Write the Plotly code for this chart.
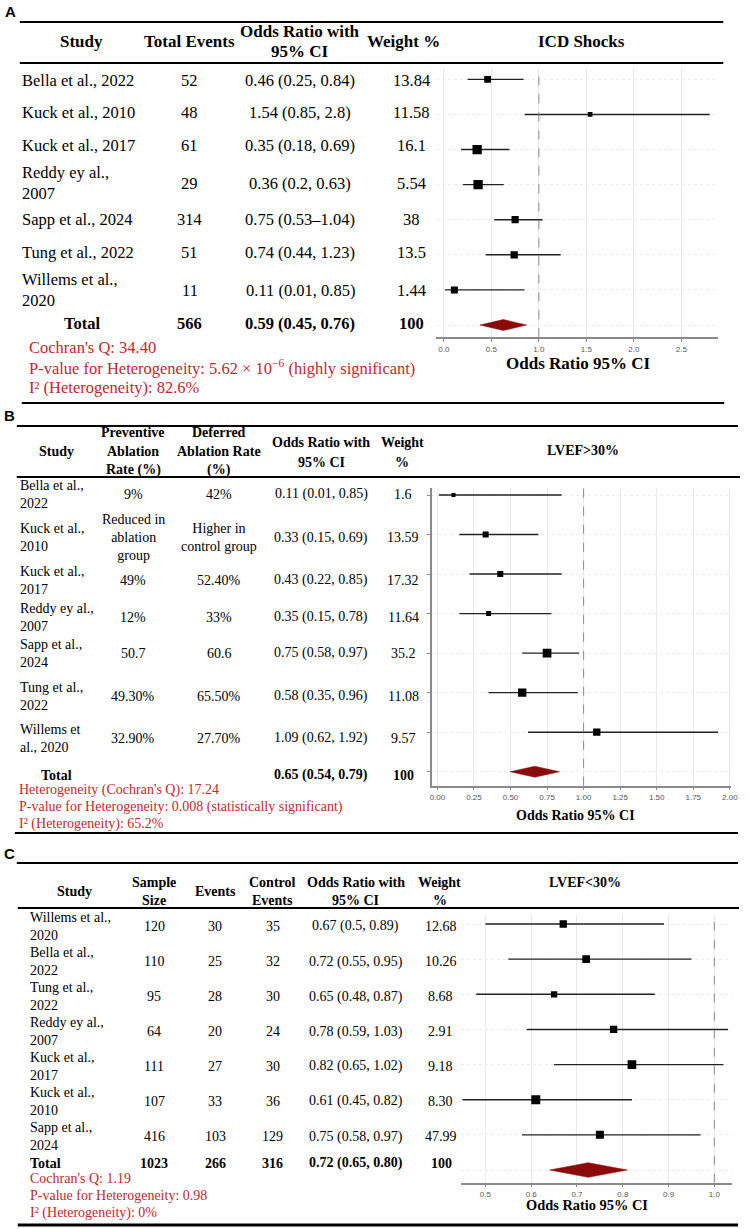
import plotly.graph_objects as go

W, H = 750, 1229
SERIF = "Liberation Serif, Times New Roman, serif"
SANS = "Liberation Sans, Arial, sans-serif"
RED = "#C4262E"
MAROON = "#8B0A0A"

# ---------------- Panel A : ICD Shocks ----------------
studies_a = ["Bella et al., 2022", "Kuck et al., 2010", "Kuck et al., 2017", "Reddy ey al.,<br>2007",
             "Sapp et al., 2024", "Tung et al., 2022", "Willems et al.,<br>2020"]
events_a = ["52", "48", "61", "29", "314", "51", "11"]
or_a = [0.46, 1.54, 0.35, 0.36, 0.75, 0.74, 0.11]
lo_a = [0.25, 0.85, 0.18, 0.20, 0.53, 0.44, 0.01]
hi_a = [0.84, 2.80, 0.69, 0.63, 1.04, 1.23, 0.85]
or_text_a = ["0.46 (0.25, 0.84)", "1.54 (0.85, 2.8)", "0.35 (0.18, 0.69)", "0.36 (0.2, 0.63)",
             "0.75 (0.53–1.04)", "0.74 (0.44, 1.23)", "0.11 (0.01, 0.85)"]
weight_a = ["13.84", "11.58", "16.1", "5.54", "38", "13.5", "1.44"]
total_a = ["Total", "566", "0.59 (0.45, 0.76)", "100"]
pooled_a = [0.38, 0.625, 0.87]  # diamond as drawn (low, centre, high)
het_a = ["Cochran's Q: 34.40",
         "P-value for Heterogeneity: 5.62 × 10<sup>−6</sup> (highly significant)",
         "I² (Heterogeneity): 82.6%"]
ticks_a = [0.0, 0.5, 1.0, 1.5, 2.0, 2.5]

# ---------------- Panel B : LVEF>30% ----------------
studies_b = ["Bella et al.,<br>2022", "Kuck et al.,<br>2010", "Kuck et al.,<br>2017", "Reddy ey al.,<br>2007",
             "Sapp et al.,<br>2024", "Tung et al.,<br>2022", "Willems et<br>al., 2020"]
prev_b = ["9%", "Reduced in<br>ablation<br>group", "49%", "12%", "50.7", "49.30%", "32.90%"]
def_b = ["42%", "Higher in<br>control group", "52.40%", "33%", "60.6", "65.50%", "27.70%"]
or_b = [0.11, 0.33, 0.43, 0.35, 0.75, 0.58, 1.09]
lo_b = [0.01, 0.15, 0.22, 0.15, 0.58, 0.35, 0.62]
hi_b = [0.85, 0.69, 0.85, 0.78, 0.97, 0.96, 1.92]
or_text_b = ["0.11 (0.01, 0.85)", "0.33 (0.15, 0.69)", "0.43 (0.22, 0.85)", "0.35 (0.15, 0.78)",
             "0.75 (0.58, 0.97)", "0.58 (0.35, 0.96)", "1.09 (0.62, 1.92)"]
weight_b = ["1.6", "13.59", "17.32", "11.64", "35.2", "11.08", "9.57"]
total_b = ["Total", "", "", "0.65 (0.54, 0.79)", "100"]
pooled_b = [0.497, 0.666, 0.835]
het_b = ["Heterogeneity (Cochran's Q): 17.24",
         "P-value for Heterogeneity: 0.008 (statistically significant)",
         "I² (Heterogeneity): 65.2%"]
ticks_b = [0.0, 0.25, 0.5, 0.75, 1.0, 1.25, 1.5, 1.75, 2.0]

# ---------------- Panel C : LVEF<30% ----------------
studies_c = ["Willems et al.,<br>2020", "Bella et al.,<br>2022", "Tung et al.,<br>2022", "Reddy ey al.,<br>2007",
             "Kuck et al.,<br>2017", "Kuck et al.,<br>2010", "Sapp et al.,<br>2024"]
sample_c = ["120", "110", "95", "64", "111", "107", "416"]
events_c = ["30", "25", "28", "20", "27", "33", "103"]
control_c = ["35", "32", "30", "24", "30", "36", "129"]
or_c = [0.67, 0.72, 0.65, 0.78, 0.82, 0.61, 0.75]
lo_c = [0.50, 0.55, 0.48, 0.59, 0.65, 0.45, 0.58]
hi_c = [0.89, 0.95, 0.87, 1.03, 1.02, 0.82, 0.97]
or_text_c = ["0.67 (0.5, 0.89)", "0.72 (0.55, 0.95)", "0.65 (0.48, 0.87)", "0.78 (0.59, 1.03)",
             "0.82 (0.65, 1.02)", "0.61 (0.45, 0.82)", "0.75 (0.58, 0.97)"]
weight_c = ["12.68", "10.26", "8.68", "2.91", "9.18", "8.30", "47.99"]
total_c = ["Total", "1023", "266", "316", "0.72 (0.65, 0.80)", "100"]
pooled_c = [0.64, 0.7245, 0.81]
het_c = ["Cochran's Q: 1.19", "P-value for Heterogeneity: 0.98", "I² (Heterogeneity): 0%"]
ticks_c = [0.5, 0.6, 0.7, 0.8, 0.9, 1.0]

# ---------------- styling (sizes/positions) ----------------
SQ_A = [6.7, 4.7, 9.3, 9.3, 7.2, 7.3, 7.0]
SQ_B = [4.0, 6.0, 6.0, 5.0, 8.7, 8.3, 7.3]
SQ_C = [7.3, 7.7, 6.3, 7.3, 8.7, 9.0, 8.0]


def px(x):
    return x / W


def py(y):
    return 1 - y / H


fig = go.Figure()
annotations = []
shapes = []


def txt(x, y, text, size, color="black", anchor="center", bold=False, family=SERIF):
    if bold:
        text = "<b>" + text + "</b>"
    annotations.append(dict(
        x=px(x), y=py(y), xref="paper", yref="paper", text=text, showarrow=False,
        xanchor=anchor, yanchor="middle", align=anchor if anchor != "center" else "center",
        font=dict(family=family, size=size, color=color), borderpad=0))


def hline(y, x0, x1, width=2.2):
    shapes.append(dict(type="line", xref="paper", yref="paper", x0=px(x0), x1=px(x1),
                       y0=py(y), y1=py(y), line=dict(color="black", width=width)))


panels = [
    dict(ax="", ors=or_a, lo=lo_a, hi=hi_a, sq=SQ_A, pooled=pooled_a, dh=0.157,
         xdom=(439.3, 725.0), ydom=(68.8, 337.3), xr=[-0.083, 2.89], yr=[7.35, -0.30],
         ticks=ticks_a, fmt="{:.1f}", leftline=False, title=(583, 363, 17)),
    dict(ax="2", ors=or_b, lo=lo_b, hi=hi_b, sq=SQ_B, pooled=pooled_b, dh=0.139,
         xdom=(435.0, 738.0), ydom=(488.0, 785.7), xr=[-0.0385, 2.009], yr=[7.354, -0.177],
         ticks=ticks_b, fmt="{:.2f}", leftline=True, title=(580, 815, 14)),
    dict(ax="3", ors=or_c, lo=lo_c, hi=hi_c, sq=SQ_C, pooled=pooled_c, dh=0.209,
         xdom=(465.0, 739.3), ydom=(915.0, 1182.7), xr=[0.4476, 1.0395], yr=[7.361, -0.256],
         ticks=ticks_c, fmt="{:.1f}", leftline=False, title=(592, 1205, 14.4)),
]

layout_axes = {}
for p in panels:
    n = len(p["ors"])
    rows = list(range(n))
    xa, ya = "x" + p["ax"], "y" + p["ax"]
    fig.add_trace(go.Scatter(
        x=p["ors"], y=rows, mode="markers", xaxis=xa, yaxis=ya,
        marker=dict(symbol="square", size=p["sq"], color="#000000", opacity=1, line=dict(width=0)),
        error_x=dict(type="data", symmetric=False,
                     array=[h - o for h, o in zip(p["hi"], p["ors"])],
                     arrayminus=[o - l for o, l in zip(p["ors"], p["lo"])],
                     width=0, thickness=1.4, color="#222222"),
        hoverinfo="skip", showlegend=False))
    lo, mid, hi = p["pooled"]
    r, dh = n, p["dh"]
    fig.add_trace(go.Scatter(
        x=[lo, mid, hi, mid, lo], y=[r, r - dh, r, r + dh, r], mode="lines",
        fill="toself", fillcolor=MAROON, line=dict(color=MAROON, width=0.5),
        xaxis=xa, yaxis=ya, hoverinfo="skip", showlegend=False))
    # reference line at OR = 1
    shapes.append(dict(type="line", xref=xa, yref=ya + " domain", x0=1, x1=1, y0=0, y1=1,
                       line=dict(color="#8a8a8a", width=1, dash="dash")))
    xkey = "xaxis" + p["ax"]
    ykey = "yaxis" + p["ax"]
    layout_axes[xkey] = dict(
        domain=[px(p["xdom"][0]), px(p["xdom"][1])], range=p["xr"], anchor=ya,
        tickvals=p["ticks"], ticktext=[p["fmt"].format(t) for t in p["ticks"]],
        showgrid=True, gridcolor="#e9e9e9", gridwidth=1, zeroline=False,
        showline=True, linecolor="#8a8a8a", linewidth=1.5,
        ticks="outside", ticklen=3, tickcolor="#8a8a8a",
        tickfont=dict(family=SANS, size=8, color="#555555"), fixedrange=True)
    layout_axes[ykey] = dict(
        domain=[py(p["ydom"][1]), py(p["ydom"][0])], range=p["yr"], anchor=xa,
        tickvals=list(range(n + 1)), showticklabels=False,
        showgrid=True, gridcolor="#ececec", gridwidth=1, griddash="dot", zeroline=False,
        showline=p["leftline"], linecolor="#8a8a8a", linewidth=1.5,
        ticks="outside" if p["leftline"] else "", ticklen=3, tickcolor="#8a8a8a", fixedrange=True)
    tx, ty, ts = p["title"]
    txt(tx, ty, "Odds Ratio 95% CI", ts, bold=True)

# ---------------- Panel A table ----------------
txt(8.5, 11, "A", 15, bold=True, family=SANS)
hline(22, 18, 730)
hline(63, 18, 730)
hline(403, 20, 731)
FA = 16.5
txt(80, 42, "Study", 17, bold=True)
txt(190, 42, "Total Events", 17, bold=True)
txt(302, 32, "Odds Ratio with", 17, bold=True)
txt(302, 52, "95% CI", 17, bold=True)
txt(406, 42, "Weight %", 17, bold=True)
txt(587, 42, "ICD Shocks", 17, bold=True)
rows_a = [80, 112, 145, 183, 220, 253, 290]
for i, yy in enumerate(rows_a):
    txt(19, yy, studies_a[i], FA, anchor="left")
    txt(190, yy, events_a[i], FA)
    txt(302, yy, or_text_a[i], FA)
    txt(414, yy, weight_a[i], FA)
for xx, t in zip([81, 190, 302, 414], total_a):
    txt(xx, 323, t, FA, bold=True)
for yy, t in zip([347, 367, 387], het_a):
    txt(26, yy, t, FA, color=RED, anchor="left")

# ---------------- Panel B table ----------------
txt(8, 415.5, "B", 15, bold=True, family=SANS)
hline(426, 15, 745)
hline(477, 15, 747)
hline(833, 13, 745)
FB = 14
txt(55, 451, "Study", FB, bold=True)
txt(133, 432, "Preventive", FB, bold=True)
txt(133, 451, "Ablation", FB, bold=True)
txt(133, 470, "Rate (%)", FB, bold=True)
txt(220, 432, "Deferred", FB, bold=True)
txt(220, 451, "Ablation Rate", FB, bold=True)
txt(220, 470, "(%)", FB, bold=True)
txt(323, 442, "Odds Ratio with", FB, bold=True)
txt(323, 462, "95% CI", FB, bold=True)
txt(405, 442, "Weight", FB, bold=True)
txt(405, 462, "%", FB, bold=True)
txt(588, 450, "LVEF&gt;30%", FB, bold=True)
rows_b = [494, 538, 580, 617, 653, 696, 738]
for i, yy in enumerate(rows_b):
    txt(17, yy, studies_b[i], FB, anchor="left")
    txt(133, yy, prev_b[i], FB)
    txt(220, yy, def_b[i], FB)
    txt(323, yy, or_text_b[i], FB)
    txt(406, yy, weight_b[i], FB)
for xx, t in zip([55, 133, 220, 323, 406], total_b):
    if t:
        txt(xx, 775, t, FB, bold=True)
for yy, t in zip([790, 807, 824], het_b):
    txt(16, yy, t, FB, color=RED, anchor="left")

# ---------------- Panel C table ----------------
txt(8, 853, "C", 15, bold=True, family=SANS)
hline(863, 15, 745)
hline(908, 16, 746)
hline(1225, 16, 745, width=3)
FC = 14
txt(73, 891, "Study", FC, bold=True)
txt(154, 882, "Sample", FC, bold=True)
txt(154, 900, "Size", FC, bold=True)
txt(216, 891, "Events", FC, bold=True)
txt(274, 882, "Control", FC, bold=True)
txt(274, 900, "Events", FC, bold=True)
txt(358, 882, "Odds Ratio with", FC, bold=True)
txt(358, 900, "95% CI", FC, bold=True)
txt(443, 882, "Weight", FC, bold=True)
txt(443, 900, "%", FC, bold=True)
txt(590, 882, "LVEF&lt;30%", FC, bold=True)
rows_c = [926, 961.7, 996.7, 1031.7, 1066, 1101, 1136.7]
for i, yy in enumerate(rows_c):
    txt(27, yy, studies_c[i], FC, anchor="left")
    txt(154, yy, sample_c[i], FC)
    txt(216, yy, events_c[i], FC)
    txt(274, yy, control_c[i], FC)
    txt(358, yy, or_text_c[i], FC)
    txt(444, yy, weight_c[i], FC)
txt(27, 1163.3, total_c[0], FC, bold=True, anchor="left")
for xx, t in zip([154, 216, 274, 358, 445], total_c[1:]):
    txt(xx, 1163.3, t, FC, bold=True)
for yy, t in zip([1178, 1195.7, 1213.3], het_c):
    txt(27, yy, t, FC, color=RED, anchor="left")

fig.update_layout(
    width=W, height=H, margin=dict(l=0, r=0, t=0, b=0),
    paper_bgcolor="white", plot_bgcolor="white", showlegend=False,
    annotations=annotations, shapes=shapes, **layout_axes)

fig.write_html("out.html", config={"displayModeBar": False},
               post_script="document.body.style.margin='0px';document.body.style.overflow='hidden';")
